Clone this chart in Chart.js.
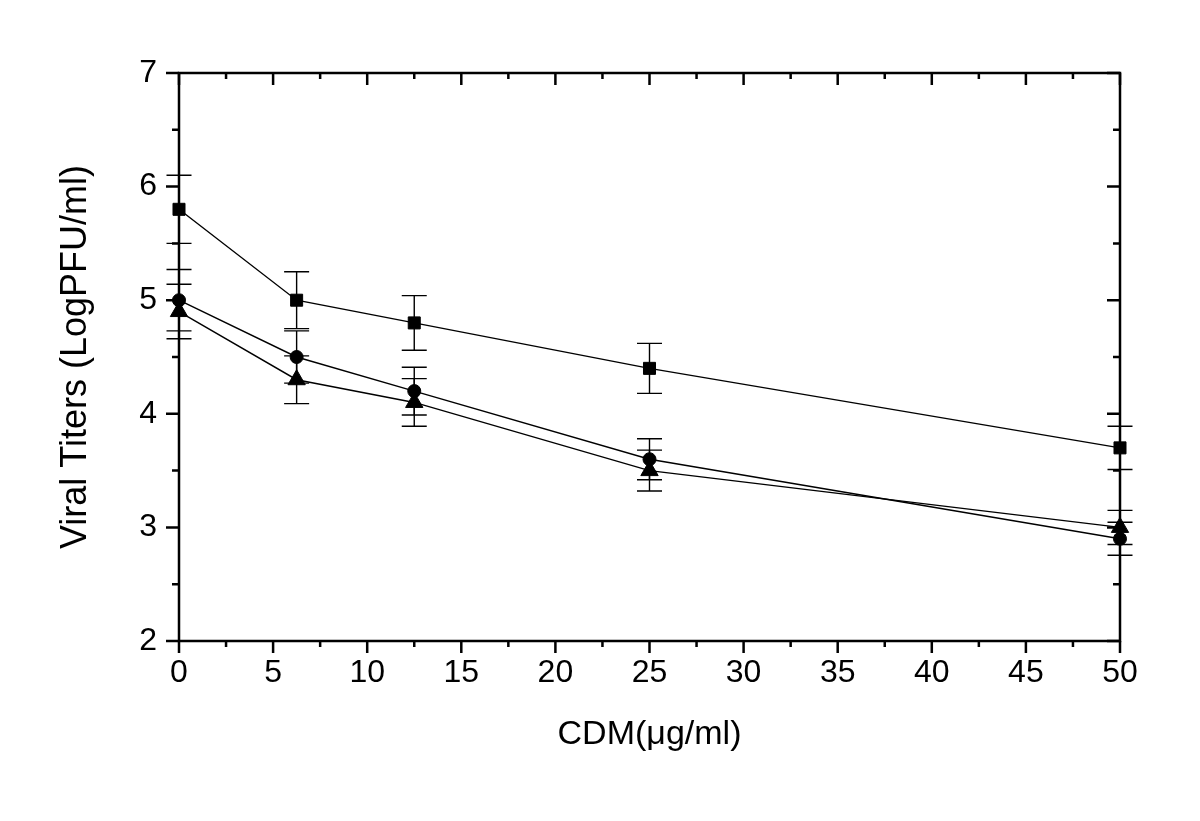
<!DOCTYPE html>
<html>
<head>
<meta charset="utf-8">
<script src="https://cdn.jsdelivr.net/npm/chart.js@4/dist/chart.umd.min.js"></script>
<style>
html,body{margin:0;padding:0;background:#fff;}
canvas{display:block;}
</style>
</head>
<body>
<canvas id="c" width="1200" height="821"></canvas>
<script>
// ---- data ----
const concentrations = [0, 6.25, 12.5, 25, 50];
const squareValues   = [5.8, 5.0, 4.8, 4.4, 3.7];
const squareErrors   = [0.3, 0.25, 0.24, 0.22, 0.19];
const circleValues   = [5.0, 4.5, 4.2, 3.6, 2.9];
const circleErrors   = [0.27, 0.23, 0.21, 0.18, 0.145];
const triangleValues = [4.9, 4.3, 4.1, 3.5, 3.0];
const triangleErrors = [0.24, 0.21, 0.21, 0.18, 0.15];
const xMajorTicks = [0, 5, 10, 15, 20, 25, 30, 35, 40, 45, 50];
const yMajorTicks = [2, 3, 4, 5, 6, 7];
const xTitle = 'CDM(μg/ml)';
const yTitle = 'Viral Titers (LogPFU/ml)';

const FONT = "'Liberation Sans', Arial, Helvetica, sans-serif";

function pts(vals){ return concentrations.map((x,i)=>({x:x, y:vals[i]})); }

function ds(vals, errs, style, radius){
  return {
    data: pts(vals),
    errors: errs,
    borderColor:'#000',
    borderWidth:1.4,
    pointStyle: style,
    pointRadius: radius,
    pointBackgroundColor:'#000',
    pointBorderColor:'#000',
    pointBorderWidth:1,
    tension:0,
    fill:false,
    clip:false
  };
}

const errorBars = {
  id:'errorBars',
  beforeDatasetsDraw(chart){
    const {ctx, scales:{x,y}} = chart;
    ctx.save();
    ctx.strokeStyle='#000';
    ctx.lineWidth=1.4;
    chart.data.datasets.forEach(d=>{
      d.data.forEach((p,i)=>{
        const e = d.errors[i];
        const px = x.getPixelForValue(p.x);
        const yt = y.getPixelForValue(p.y + e);
        const yb = y.getPixelForValue(p.y - e);
        const hw = 12.5;
        ctx.beginPath();
        ctx.moveTo(px, yt); ctx.lineTo(px, yb);
        ctx.moveTo(px-hw, yt); ctx.lineTo(px+hw, yt);
        ctx.moveTo(px-hw, yb); ctx.lineTo(px+hw, yb);
        ctx.stroke();
      });
    });
    ctx.restore();
  }
};

const frame = {
  id:'frame',
  afterDraw(chart){
    const {ctx, chartArea:a, scales:{x,y}} = chart;
    ctx.save();
    ctx.strokeStyle='#000';
    ctx.lineWidth=2.5;
    ctx.lineCap='square';
    ctx.beginPath();
    ctx.rect(a.left, a.top, a.right-a.left, a.bottom-a.top);
    ctx.stroke();
    ctx.lineCap='butt';
    ctx.beginPath();
    // x ticks
    for (let v = x.min; v <= x.max + 1e-9; v += 2.5){
      const major = xMajorTicks.some(t=>Math.abs(t-v)<1e-9);
      const len = major ? 12 : 6;
      const px = x.getPixelForValue(v);
      ctx.moveTo(px, a.bottom); ctx.lineTo(px, a.bottom + len);
      ctx.moveTo(px, a.top); ctx.lineTo(px, a.top + len);
    }
    // y ticks
    for (let v = y.min; v <= y.max + 1e-9; v += 0.5){
      const major = yMajorTicks.some(t=>Math.abs(t-v)<1e-9);
      const len = major ? 13 : 7;
      const py = y.getPixelForValue(v);
      ctx.moveTo(a.left, py); ctx.lineTo(a.left - len, py);
      ctx.moveTo(a.right, py); ctx.lineTo(a.right - len, py);
    }
    ctx.stroke();
    ctx.restore();
  }
};

new Chart(document.getElementById('c'), {
  type:'line',
  data:{
    datasets:[
      ds(squareValues, squareErrors, 'rect', 8.5),
      ds(circleValues, circleErrors, 'circle', 6.5),
      ds(triangleValues, triangleErrors, 'triangle', 10)
    ]
  },
  options:{
    responsive:false,
    animation:false,
    devicePixelRatio:1,
    layout:{padding:{top:73, right:80, left:0, bottom:0}},
    plugins:{legend:{display:false}, tooltip:{enabled:false}},
    scales:{
      x:{
        type:'linear',
        min:0, max:50,
        afterBuildTicks(scale){ scale.ticks = xMajorTicks.map(v=>({value:v})); },
        afterFit(scale){ scale.height = 180; },
        grid:{display:false, drawTicks:false},
        border:{display:false},
        ticks:{
          color:'#000',
          font:{family:FONT, size:32},
          padding:13,
          maxRotation:0,
          autoSkip:false
        },
        title:{
          display:true,
          text:xTitle,
          color:'#000',
          font:{family:FONT, size:34},
          padding:{top:0, bottom:66}
        }
      },
      y:{
        type:'linear',
        min:2, max:7,
        afterBuildTicks(scale){ scale.ticks = yMajorTicks.map(v=>({value:v})); },
        afterFit(scale){ scale.width = 179; },
        grid:{display:false, drawTicks:false},
        border:{display:false},
        ticks:{
          color:'#000',
          font:{family:FONT, size:32},
          padding:22,
          autoSkip:false
        },
        title:{
          display:true,
          text:yTitle,
          color:'#000',
          font:{family:FONT, size:36},
          padding:{top:54, bottom:0}
        }
      }
    }
  },
  plugins:[errorBars, frame]
});
</script>
</body>
</html>
